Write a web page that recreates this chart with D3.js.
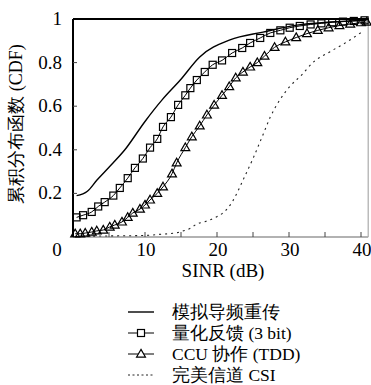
<!DOCTYPE html>
<html>
<head>
<meta charset="utf-8">
<script src="https://cdn.jsdelivr.net/npm/d3@7"></script>
<style>
  body { margin: 0; background: #fff; }
  svg { font-family: 'Liberation Serif', 'Times New Roman', serif; }
</style>
</head>
<body>
<svg width="371" height="385"></svg>
<script>
// curves: SINR (dB) and CDF value
const pilotX = [0.5, 2, 3.3, 5, 7.2, 10, 12.4, 14.9, 17.6, 21.8, 26.4, 31.1, 35.7, 40.8];
const pilotY = [0.19, 0.21, 0.26, 0.32, 0.40, 0.53, 0.63, 0.72, 0.826, 0.904, 0.94, 0.972, 0.986, 0.995];

const quantX = [0.5, 1.4, 2.6, 3.5, 4.4, 5.6, 6.5, 7.6, 8.6, 9.7, 10.7, 11.7, 12.5, 13.6, 14.6, 15.6, 16.3, 17.2, 18.3, 19.4, 20.7, 22.1, 23.5, 24.6, 26, 27.4, 28.8, 30.1, 31.5, 33, 34.5, 36, 37.5, 39, 40.5];
const quantY = [0.09, 0.10, 0.115, 0.14, 0.16, 0.19, 0.225, 0.27, 0.317, 0.36, 0.41, 0.45, 0.505, 0.55, 0.606, 0.65, 0.683, 0.72, 0.757, 0.79, 0.81, 0.844, 0.867, 0.89, 0.913, 0.936, 0.948, 0.96, 0.968, 0.975, 0.98, 0.985, 0.988, 0.991, 0.994];

const ccuX = [0.3, 1, 1.7, 2.6, 3.3, 4.2, 5.1, 5.8, 6.8, 7.6, 8.3, 9.3, 10, 10.7, 11.7, 12.5, 13.75, 14.4, 15.6, 16.5, 17.6, 18.6, 19.6, 20.7, 21.7, 22.6, 23.6, 24.6, 25.6, 26.6, 28, 29.5, 31, 32.5, 34, 35.5, 37, 38.5, 40, 40.8];
const ccuY = [0.015, 0.015, 0.018, 0.023, 0.028, 0.032, 0.046, 0.055, 0.069, 0.09, 0.11, 0.128, 0.147, 0.17, 0.2, 0.23, 0.29, 0.34, 0.41, 0.46, 0.51, 0.56, 0.605, 0.65, 0.69, 0.73, 0.757, 0.78, 0.80, 0.83, 0.87, 0.895, 0.915, 0.933, 0.948, 0.96, 0.97, 0.977, 0.983, 0.986];

const csiX = [0.3, 5, 10, 12, 14.5, 15.5, 16.3, 17.2, 18.3, 19.6, 20.8, 21.8, 22.6, 23.6, 25, 26.4, 27.4, 28.75, 30.1, 31.8, 33.3, 35.7, 38, 40.1];
const csiY = [0.003, 0.005, 0.007, 0.012, 0.02, 0.03, 0.04, 0.06, 0.07, 0.087, 0.11, 0.145, 0.19, 0.26, 0.36, 0.47, 0.55, 0.63, 0.69, 0.745, 0.8, 0.85, 0.894, 0.94];

const xTicks = [0, 10, 20, 30, 40];
const yTicks = [0.2, 0.4, 0.6, 0.8, 1];
const legendNames = ['模拟导频重传', '量化反馈 (3 bit)', 'CCU 协作 (TDD)', '完美信道 CSI'];

const svg = d3.select('svg');

const x = d3.scaleLinear().domain([0, 41]).range([73, 368.2]);
const y = d3.scaleLinear().domain([0, 1]).range([237, 19]);

// frame
svg.append('line')
    .attr('x1', x(0)).attr('x2', x(41)).attr('y1', y(0)).attr('y2', y(0))
    .attr('stroke', '#999').attr('stroke-width', 1.5);
svg.append('line')
    .attr('x1', x(41)).attr('x2', x(41)).attr('y1', y(0)).attr('y2', y(1))
    .attr('stroke', '#aaa').attr('stroke-width', 1.2);
svg.append('line')
    .attr('x1', x(0)).attr('x2', x(41) + 0.5).attr('y1', y(1)).attr('y2', y(1))
    .attr('stroke', '#000').attr('stroke-width', 2);
svg.append('line')
    .attr('x1', x(0)).attr('x2', x(0)).attr('y1', y(0)).attr('y2', y(1))
    .attr('stroke', '#000').attr('stroke-width', 2);

// inward ticks
svg.selectAll('.xt')
    .data(d3.range(5, 41, 5))
    .join('line')
        .attr('x1', d => x(d)).attr('x2', d => x(d))
        .attr('y1', y(0)).attr('y2', y(0) - 5)
        .attr('stroke', '#444').attr('stroke-width', 1);
svg.selectAll('.yt')
    .data(yTicks.slice(0, 4))
    .join('line')
        .attr('x1', x(0)).attr('x2', x(0) + 4)
        .attr('y1', d => y(d)).attr('y2', d => y(d))
        .attr('stroke', '#444').attr('stroke-width', 1);

// tick labels
svg.selectAll('.xl')
    .data(xTicks)
    .join('text')
        .attr('x', d => d === 0 ? x(d) - 16 : x(d) + 1)
        .attr('y', 256)
        .attr('text-anchor', 'middle')
        .attr('font-size', 19)
        .text(d => String(d));
svg.selectAll('.yl')
    .data(yTicks)
    .join('text')
        .attr('x', 62)
        .attr('y', d => y(d) + 6)
        .attr('text-anchor', 'end')
        .attr('font-size', 19)
        .text(d => d === 1 ? '1' : d.toFixed(1));

svg.append('text')
    .attr('x', 223).attr('y', 277)
    .attr('text-anchor', 'middle')
    .attr('font-size', 19)
    .text('SINR (dB)');
svg.append('text')
    .attr('transform', 'translate(22,124) rotate(-90)')
    .attr('text-anchor', 'middle')
    .attr('font-size', 18)
    .text('累积分布函数 (CDF)');

// curves
const line = d3.line()
    .x(d => x(d[0]))
    .y(d => y(d[1]))
    .curve(d3.curveMonotoneX);

const pilot = d3.zip(pilotX, pilotY);
const quant = d3.zip(quantX, quantY);
const ccu = d3.zip(ccuX, ccuY);
const csi = d3.zip(csiX, csiY);

svg.append('path').attr('d', line(csi))
    .attr('fill', 'none').attr('stroke', '#222').attr('stroke-width', 1.1)
    .attr('stroke-dasharray', '2,4');
svg.append('path').attr('d', line(pilot))
    .attr('fill', 'none').attr('stroke', '#000').attr('stroke-width', 1.4);
svg.append('path').attr('d', line(quant))
    .attr('fill', 'none').attr('stroke', '#000').attr('stroke-width', 1);
svg.append('path').attr('d', line(ccu))
    .attr('fill', 'none').attr('stroke', '#000').attr('stroke-width', 1);

const sq = 7;
svg.selectAll('.sq')
    .data(quant)
    .join('rect')
        .attr('x', d => x(d[0]) - sq / 2)
        .attr('y', d => y(d[1]) - sq / 2)
        .attr('width', sq).attr('height', sq)
        .attr('fill', 'none').attr('stroke', '#000').attr('stroke-width', 1.2);

const tri = d3.symbol().type(d3.symbolTriangle).size(34);
svg.selectAll('.tri')
    .data(ccu)
    .join('path')
        .attr('d', tri)
        .attr('transform', d => `translate(${x(d[0])},${y(d[1]) + 0.5})`)
        .attr('fill', 'none').attr('stroke', '#000').attr('stroke-width', 1.2);

// legend
const legend = svg.append('g');
const rowY = i => 312 + i * 21;
legendNames.forEach((name, i) => {
    const row = legend.append('g').attr('transform', `translate(0,${rowY(i)})`);
    const ln = row.append('line')
        .attr('x1', 128).attr('x2', 154)
        .attr('stroke', '#000').attr('stroke-width', i === 0 ? 1.4 : 1);
    if (i === 3) ln.attr('stroke-dasharray', '2,2.5').attr('stroke', '#222');
    if (i === 1) {
        row.append('rect')
            .attr('x', 141 - sq / 2).attr('y', -sq / 2)
            .attr('width', sq).attr('height', sq)
            .attr('fill', '#fff').attr('stroke', '#000').attr('stroke-width', 1.2);
    }
    if (i === 2) {
        row.append('path').attr('d', tri)
            .attr('transform', 'translate(141,0.5)')
            .attr('fill', '#fff').attr('stroke', '#000').attr('stroke-width', 1.2);
    }
    row.append('text')
        .attr('x', 172).attr('y', 6)
        .attr('font-size', 17.5)
        .text(name);
});
</script>
</body>
</html>
